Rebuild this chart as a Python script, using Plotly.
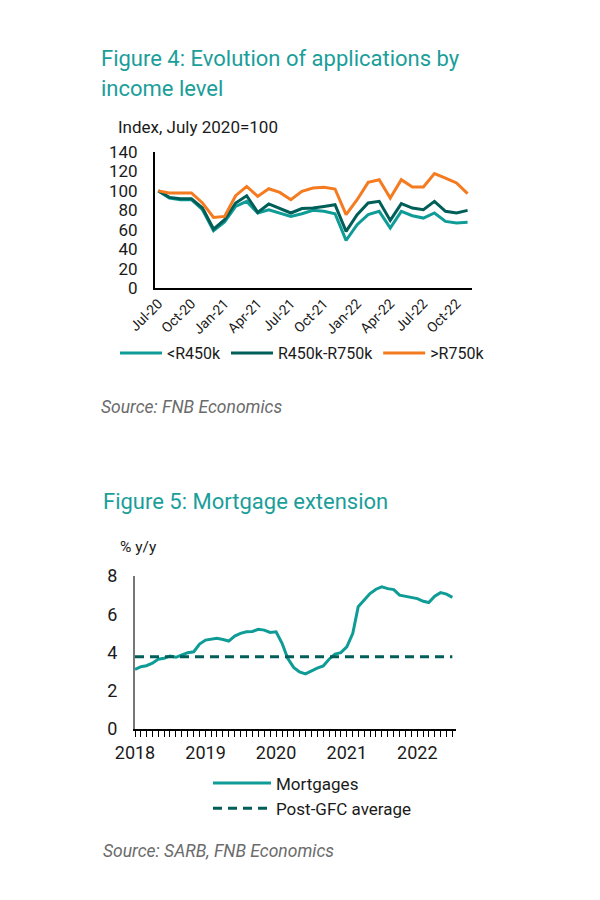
import plotly.graph_objects as go
import pandas as pd

# --- Figure 4 data: applications index by income level (Jul-20 = 100) ---
months4 = ["Jul-20", "Aug-20", "Sep-20", "Oct-20", "Nov-20", "Dec-20",
           "Jan-21", "Feb-21", "Mar-21", "Apr-21", "May-21", "Jun-21",
           "Jul-21", "Aug-21", "Sep-21", "Oct-21", "Nov-21", "Dec-21",
           "Jan-22", "Feb-22", "Mar-22", "Apr-22", "May-22", "Jun-22",
           "Jul-22", "Aug-22", "Sep-22", "Oct-22", "Nov-22"]
tick4 = ["Jul-20", "Oct-20", "Jan-21", "Apr-21", "Jul-21",
         "Oct-21", "Jan-22", "Apr-22", "Jul-22", "Oct-22"]
low_inc = [100, 92.6, 90.9, 90.9, 80.6, 59, 68, 84, 89.2, 77.2,
           80.6, 77.2, 73.7, 76.5, 79.9, 78.9, 76.5, 49, 65.2, 75.5,
           78.9, 61.8, 78.9, 74.4, 72, 77.2, 68.6, 66.9, 67.6]
mid_inc = [100, 93.3, 91.9, 91.9, 82.3, 60.7, 70.3, 87.5, 95, 77.8,
           86.5, 81.6, 77.2, 81.8, 82.3, 84, 85.8, 58.3, 75.5, 87.5,
           89.2, 69.6, 86.8, 82.3, 80.6, 89.2, 78.9, 77.2, 79.9]
high_inc = [100, 97.8, 97.8, 97.8, 87.5, 72.7, 73.7, 95, 104.6, 94.3,
            102.2, 98.4, 90.9, 99.5, 102.9, 103.6, 101.9, 75.5, 90.9, 108.7,
            111.5, 92.6, 111.5, 104, 104, 117.7, 113.2, 108.1, 97.1]

# --- Figure 5 data: mortgage extension % y/y, Jan 2018 - Jul 2022 ---
months5 = pd.date_range("2018-01-01", periods=55, freq="MS")
mortgages = [3.12, 3.26, 3.31, 3.44, 3.65, 3.70, 3.82, 3.75, 3.87, 3.99,
             4.04, 4.44, 4.65, 4.70, 4.74, 4.68, 4.60, 4.86, 5.00, 5.08,
             5.10, 5.21, 5.17, 5.05, 5.08, 4.48, 3.70, 3.22, 2.98, 2.88,
             3.04, 3.18, 3.30, 3.65, 3.92, 3.99, 4.30, 5.00, 6.39, 6.77,
             7.08, 7.31, 7.43, 7.34, 7.29, 7.00, 6.94, 6.88, 6.82, 6.68,
             6.61, 6.94, 7.13, 7.05, 6.88]
post_gfc_avg = 3.78

TEAL = "#0f9c97"
DARK = "#005e59"
ORANGE = "#f47b20"
TITLE = "#1a9e9a"
FONT = "Roboto"

W, H = 600, 900
OFF = 8  # page body margin


def px(x):
    return (x - OFF) / W


def py(y):
    return 1 - (y - OFF) / H


fig = go.Figure()

fig.add_trace(go.Scatter(x=months4, y=low_inc, name="<R450k", mode="lines",
                         line=dict(color=TEAL, width=3),
                         xaxis="x", yaxis="y", legend="legend"))
fig.add_trace(go.Scatter(x=months4, y=mid_inc, name="R450k-R750k", mode="lines",
                         line=dict(color=DARK, width=3),
                         xaxis="x", yaxis="y", legend="legend"))
fig.add_trace(go.Scatter(x=months4, y=high_inc, name=">R750k", mode="lines",
                         line=dict(color=ORANGE, width=3),
                         xaxis="x", yaxis="y", legend="legend"))

fig.add_trace(go.Scatter(x=months5, y=mortgages, name="Mortgages", mode="lines",
                         line=dict(color=TEAL, width=3),
                         xaxis="x2", yaxis="y2", legend="legend2"))
fig.add_trace(go.Scatter(x=months5, y=[post_gfc_avg] * len(months5),
                         name="Post-GFC average", mode="lines",
                         line=dict(color=DARK, width=3, dash="9px,6px"),
                         xaxis="x2", yaxis="y2", legend="legend2"))

fig.update_layout(
    width=W, height=H,
    margin=dict(l=0, r=0, t=0, b=0, autoexpand=False),
    paper_bgcolor="white", plot_bgcolor="white",
    font=dict(family=FONT, color="#1a1a1a"),
    xaxis=dict(domain=[px(155), px(472)], anchor="y", type="category",
               range=[-0.3, 28.4], tickmode="array", tickvals=tick4,
               ticktext=tick4, tickangle=-45, showgrid=False,
               showline=True, linecolor="black", linewidth=2,
               ticks="", tickfont=dict(size=14), automargin=False),
    yaxis=dict(domain=[py(288), py(152)], anchor="x", range=[0, 140],
               dtick=20, showgrid=False, zeroline=False, showline=True,
               linecolor="black", linewidth=2, ticks="",
               ticklabelstandoff=12, tickfont=dict(size=17),
               automargin=False),
    xaxis2=dict(domain=[px(135), px(456)], anchor="y2",
                range=["2018-01-01", "2022-07-20"], tickformat="%Y",
                dtick="M12", tick0="2018-01-01", ticks="outside",
                ticklen=6, tickcolor="black", showgrid=False,
                showline=True, linecolor="black", linewidth=2,
                tickfont=dict(size=18), automargin=False,
                minor=dict(dtick="M1", ticks="outside", ticklen=6,
                           tickcolor="black", showgrid=False)),
    yaxis2=dict(domain=[py(729), py(576)], anchor="x2", range=[0, 8],
                dtick=2, showgrid=False, zeroline=False, showline=True,
                linecolor="#777777", linewidth=2, ticks="",
                ticklabelstandoff=12, tickfont=dict(size=18),
                automargin=False),
    legend=dict(orientation="h", x=px(115), y=py(353), xanchor="left",
                yanchor="middle", font=dict(size=16), itemwidth=42,
                bgcolor="rgba(0,0,0,0)"),
    legend2=dict(orientation="v", x=px(208), y=py(796), xanchor="left",
                 yanchor="middle", font=dict(size=17), itemwidth=58,
                 bgcolor="rgba(0,0,0,0)"),
)

annotations = [
    dict(text="Figure 4: Evolution of applications by", x=px(99), y=py(59),
         size=22, color=TITLE),
    dict(text="income level", x=px(99), y=py(89), size=22, color=TITLE),
    dict(text="Index, July 2020=100", x=px(116), y=py(127), size=17,
         color="#1a1a1a"),
    dict(text="<i>Source: FNB Economics</i>", x=px(99), y=py(407), size=17.5,
         color="#6b6b6b"),
    dict(text="Figure 5: Mortgage extension", x=px(101), y=py(501), size=22,
         color=TITLE),
    dict(text="% y/y", x=px(118), y=py(547), size=15.5, color="#1a1a1a"),
    dict(text="<i>Source: SARB, FNB Economics</i>", x=px(101), y=py(851),
         size=17.5, color="#6b6b6b"),
]
for a in annotations:
    fig.add_annotation(text=a["text"], x=a["x"], y=a["y"], xref="paper",
                       yref="paper", xanchor="left", yanchor="middle",
                       showarrow=False,
                       font=dict(size=a["size"], color=a["color"],
                                 family=FONT))

fig.write_html("out.html")
